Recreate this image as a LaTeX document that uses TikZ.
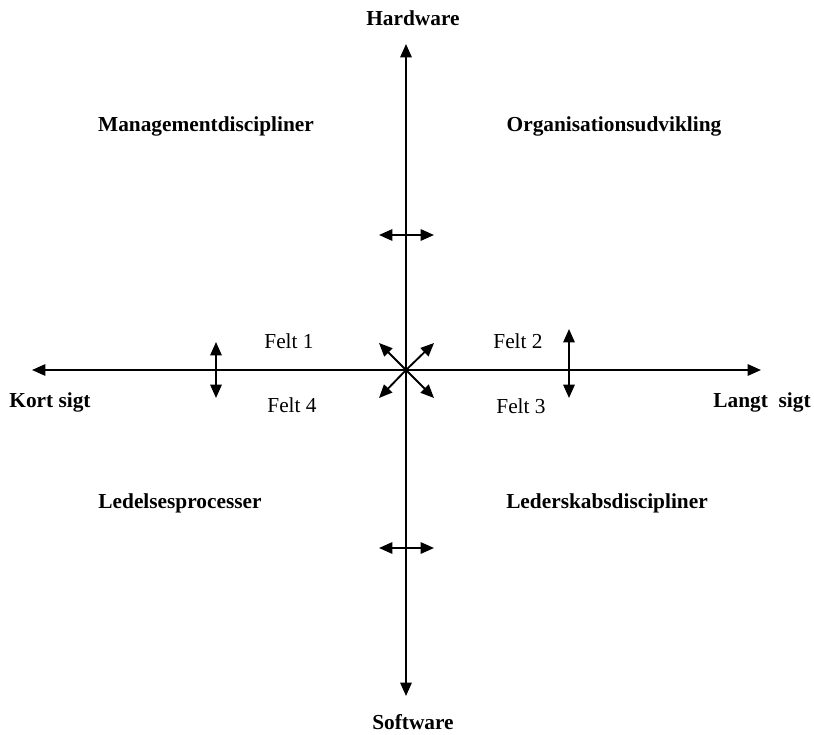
\documentclass[tikz,border=0pt]{standalone}
\usepackage{fontspec}
\setmainfont{Liberation Serif}
\usetikzlibrary{arrows.meta}
\begin{document}
\begin{tikzpicture}[x=0.75pt,y=-0.75pt,
  ax/.style={line width=1.4pt,{Triangle[length=10pt,width=8.5pt]}-{Triangle[length=10pt,width=8.5pt]}},
  one/.style={line width=1.4pt,-{Triangle[length=10pt,width=8.5pt]}},
  lbl/.style={font=\fontsize{16}{19}\selectfont\bfseries,inner sep=0pt},
  felt/.style={font=\fontsize{16}{19}\selectfont,inner sep=0pt}]
\useasboundingbox (0,0) rectangle (814,735);
% axis ends
\coordinate (top) at (406,44);
\coordinate (bot) at (406,696);
\coordinate (lft) at (32,370);
\coordinate (rgt) at (761,370);
\coordinate (c) at (406,370);
\draw[ax] (bot) -- (top);
\draw[ax] (lft) -- (rgt);
% small arrows
\coordinate (h1a) at (379,235); \coordinate (h1b) at (434,235);
\coordinate (h2a) at (379,548); \coordinate (h2b) at (434,548);
\coordinate (v1a) at (216,342); \coordinate (v1b) at (216,398);
\coordinate (v2a) at (569,329); \coordinate (v2b) at (569,398);
\draw[ax] (h1a) -- (h1b);
\draw[ax] (h2a) -- (h2b);
\draw[ax] (v1a) -- (v1b);
\draw[ax] (v2a) -- (v2b);
% diagonals
\coordinate (d1) at (379,343); \coordinate (d2) at (434,343);
\coordinate (d3) at (379,398); \coordinate (d4) at (434,398);
\draw[one] (c) -- (d1);
\draw[one] (c) -- (d2);
\draw[one] (c) -- (d3);
\draw[one] (c) -- (d4);
% labels
\node[lbl] (hw) at (413,18) {Hardware};
\node[lbl] (sw) at (413,722) {Software};
\node[lbl] (ks) at (50,402) {Kort sigt};
\node[lbl] (ls) at (762,402) {Langt\ \ sigt};
\node[lbl] (md) at (206,126) {Managementdiscipliner};
\node[lbl] (ou) at (614,126) {Organisationsudvikling};
\node[lbl] (lp) at (180,503) {Ledelsesprocesser};
\node[lbl] (lsd) at (607,503) {Lederskabsdiscipliner};
\node[felt] (f1) at (289,341) {Felt 1};
\node[felt] (f2) at (518,341) {Felt 2};
\node[felt] (f4) at (292,405) {Felt 4};
\node[felt] (f3) at (521,406) {Felt 3};
\end{tikzpicture}
\end{document}
